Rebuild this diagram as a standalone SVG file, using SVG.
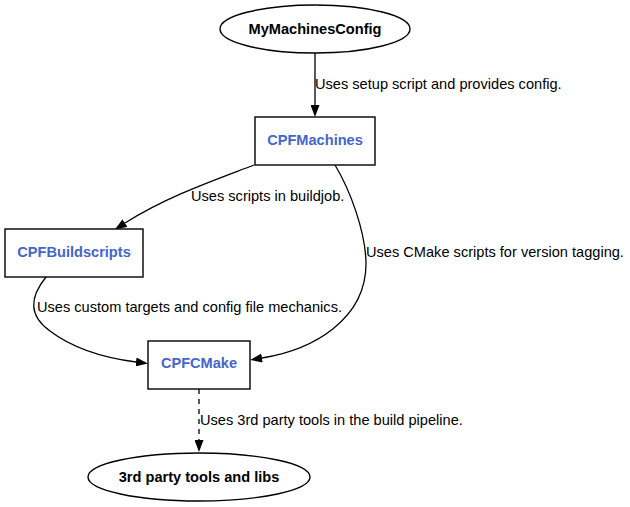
<svg xmlns="http://www.w3.org/2000/svg" width="630" height="507" viewBox="0 0 630 507">
<style>
.bg{fill:#ffffff}
.shape{fill:#ffffff;stroke:#000000;stroke-width:1.4}
.edge{fill:none;stroke:#000000;stroke-width:1.3}
.dash{stroke-dasharray:5,5}
.nl{font-family:"Liberation Sans",Arial,sans-serif;font-size:14.6px;font-weight:bold;text-anchor:middle;fill:#000000}
.blue{fill:#4466cc}
.el{font-family:"Liberation Sans",Arial,sans-serif;font-size:14.6px;fill:#000000}
</style>
<defs>
<marker id="arr" viewBox="0 0 12 9" refX="0" refY="4.5" markerWidth="12" markerHeight="9" markerUnits="userSpaceOnUse" orient="auto">
<path d="M0,0 L12,4.5 L0,9 z" fill="#000000"/>
</marker>
</defs>
<rect class="bg" x="0" y="0" width="630" height="507"/>
<g id="connectors">
<g id="e1">
<path class="edge" d="M315,53 L315,105" marker-end="url(#arr)"/>
<text class="el" x="315" y="89">Uses setup script and provides config.</text>
</g>
<g id="e2">
<path class="edge" d="M254,165 C215,180 168,196 125,223" marker-end="url(#arr)"/>
<text class="el" x="191" y="201">Uses scripts in buildjob.</text>
</g>
<g id="e3">
<path class="edge" d="M335,165 C350,190 365,230 366,262 C367,320 312,350 262,358" marker-end="url(#arr)"/>
<text class="el" x="366" y="257">Uses CMake scripts for version tagging.</text>
</g>
<g id="e4">
<path class="edge" d="M46,277 C29,298 29,316 50,331 C75,350 105,358 136,362" marker-end="url(#arr)"/>
<text class="el" x="37" y="312">Uses custom targets and config file mechanics.</text>
</g>
<g id="e5">
<path class="edge dash" d="M199,389 L199,440" marker-end="url(#arr)"/>
<text class="el" x="200" y="425">Uses 3rd party tools in the build pipeline.</text>
</g>
</g>
<g id="MyMachinesConfig">
<ellipse class="shape" cx="315" cy="29" rx="95" ry="24"/>
<text class="nl" x="315" y="34">MyMachinesConfig</text>
</g>
<g id="CPFMachines">
<rect class="shape" x="255" y="117" width="120" height="48"/>
<text class="nl blue" x="315" y="145">CPFMachines</text>
</g>
<g id="CPFBuildscripts">
<rect class="shape" x="5" y="229" width="138" height="48"/>
<text class="nl blue" x="74" y="257">CPFBuildscripts</text>
</g>
<g id="CPFCMake">
<rect class="shape" x="148" y="341" width="102" height="48"/>
<text class="nl blue" x="199" y="368">CPFCMake</text>
</g>
<g id="ThirdParty">
<ellipse class="shape" cx="199" cy="477" rx="111" ry="24"/>
<text class="nl" x="199" y="482">3rd party tools and libs</text>
</g>
</svg>
